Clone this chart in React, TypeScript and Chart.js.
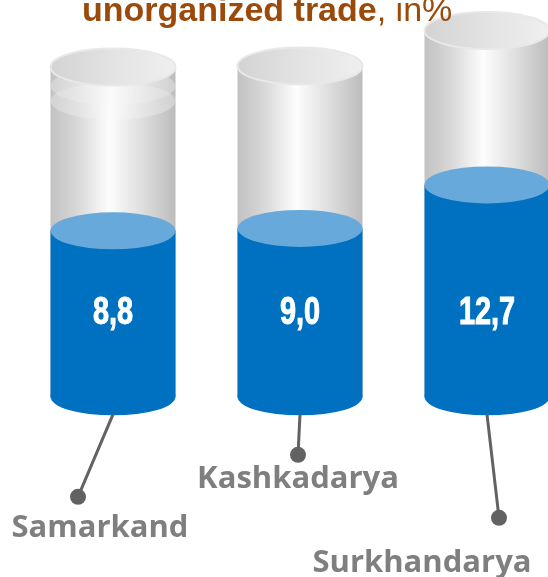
import React, { useEffect, useRef } from "react";
import { Chart, registerables } from "chart.js";

Chart.register(...registerables);

// ---- data ----
const TITLE_BOLD = "unorganized trade";
const TITLE_REST = ", in%";
const REGIONS = ["Samarkand", "Kashkadarya", "Surkhandarya"];
const SHARE = [8.8, 9.0, 12.7];
const VALUE_LABELS = ["8,8", "9,0", "12,7"];
const CAPACITY = [22.7, 22.8, 25.8];
const BASE = -5.3;
const Y_MIN = -20.6;
const Y_MAX = 28.4;

// ---- callout layout (pixel offsets relative to cylinder centre / bottom) ----
const CALLOUTS = [
  { dotDx: -35, dotDy: 100, textX: 100, textY: 537 },
  { dotDx: -2, dotDy: 58, textX: 298, textY: 488 },
  { dotDx: 12, dotDy: 121, textX: 422, textY: 572 },
];
// faint extra glass rings below the top (style only)
const GLASS_RINGS = [[19, 34], [], []];

const RY = 18.5;
const LABEL_RISE = 84;

function ellipse(ctx: CanvasRenderingContext2D, cx: number, cy: number, rx: number, ry: number) {
  ctx.beginPath();
  ctx.ellipse(cx, cy, rx, ry, 0, 0, Math.PI * 2);
  ctx.closePath();
}

const cylinderPlugin = {
  id: "cylinders",
  afterDatasetsDraw(chart: any) {
    const ctx: CanvasRenderingContext2D = chart.ctx;
    const blueMeta = chart.getDatasetMeta(0);
    const grayMeta = chart.getDatasetMeta(1);
    ctx.save();
    for (let i = 0; i < REGIONS.length; i++) {
      const g = grayMeta.data[i];
      const b = blueMeta.data[i];
      const cx = b.x;
      const rx = b.width / 2;
      const base = b.base;
      const blueTop = b.y;
      const grayTop = g.y;
      const left = cx - rx;

      // gray glass body
      const gg = ctx.createLinearGradient(left, 0, left + 2 * rx, 0);
      gg.addColorStop(0, "#c2c2c2");
      gg.addColorStop(0.2, "#d6d6d6");
      gg.addColorStop(0.47, "#fdfdfd");
      gg.addColorStop(0.75, "#dcdcdc");
      gg.addColorStop(1, "#bcbcbc");
      ctx.fillStyle = gg;
      ctx.fillRect(left, grayTop, 2 * rx, base - grayTop);

      // faint rings
      for (const off of GLASS_RINGS[i]) {
        const rg = ctx.createLinearGradient(left, 0, left + 2 * rx, 0);
        rg.addColorStop(0, "rgba(225,225,225,0.55)");
        rg.addColorStop(0.5, "rgba(250,250,250,0.45)");
        rg.addColorStop(1, "rgba(225,225,225,0.55)");
        ellipse(ctx, cx, grayTop + off, rx, RY);
        ctx.fillStyle = rg;
        ctx.fill();
      }

      // gray top ellipse
      const gt = ctx.createLinearGradient(left, 0, left + 2 * rx, 0);
      gt.addColorStop(0, "#d3d3d3");
      gt.addColorStop(0.5, "#e3e3e3");
      gt.addColorStop(1, "#efefef");
      ellipse(ctx, cx, grayTop, rx, RY);
      ctx.fillStyle = gt;
      ctx.fill();
      ctx.lineWidth = 2;
      ctx.strokeStyle = "#e8e8e8";
      ctx.stroke();

      // blue body
      ctx.fillStyle = "#0070c0";
      ellipse(ctx, cx, base, rx, RY);
      ctx.fill();
      ctx.fillRect(left, blueTop, 2 * rx, base - blueTop);
      ellipse(ctx, cx, blueTop, rx, RY);
      ctx.fillStyle = "#66a9da";
      ctx.fill();

      // value label
      ctx.save();
      ctx.translate(cx, base - LABEL_RISE);
      ctx.scale(0.76, 1);
      ctx.fillStyle = "#ffffff";
      ctx.strokeStyle = "#ffffff";
      ctx.lineWidth = 1;
      ctx.font = "bold 38px 'Liberation Sans', Arial, sans-serif";
      ctx.textAlign = "center";
      ctx.textBaseline = "middle";
      ctx.fillText(VALUE_LABELS[i], 0, 1);
      ctx.strokeText(VALUE_LABELS[i], 0, 1);
      ctx.restore();

      // callout
      const c = CALLOUTS[i];
      const sx = cx;
      const sy = base + RY - 1;
      const dx = cx + c.dotDx;
      const dy = base + c.dotDy;
      ctx.beginPath();
      ctx.moveTo(sx, sy);
      ctx.lineTo(dx, dy);
      ctx.lineWidth = 3;
      ctx.strokeStyle = "#626262";
      ctx.stroke();
      ctx.beginPath();
      ctx.arc(dx, dy, 8, 0, Math.PI * 2);
      ctx.fillStyle = "#626262";
      ctx.fill();

      ctx.font = "bold 31px 'Open Sans', 'DejaVu Sans', sans-serif";
      ctx.fillStyle = "#7f7f7f";
      ctx.textAlign = "center";
      ctx.textBaseline = "alphabetic";
      ctx.fillText(REGIONS[i], c.textX, c.textY);
    }

    // title (partly cut at top edge)
    ctx.textBaseline = "alphabetic";
    ctx.textAlign = "left";
    ctx.fillStyle = "#9a4a0b";
    ctx.font = "bold 34px 'Liberation Sans', Arial, sans-serif";
    const x0 = 82;
    ctx.fillText(TITLE_BOLD, x0, 21);
    const w = ctx.measureText(TITLE_BOLD).width;
    ctx.font = "34px 'Liberation Sans', Arial, sans-serif";
    ctx.fillText(TITLE_REST, x0 + w, 21);
    ctx.restore();
  },
};

export default function App() {
  const ref = useRef<HTMLCanvasElement | null>(null);
  useEffect(() => {
    if (!ref.current) return;
    const chart = new Chart(ref.current, {
      type: "bar",
      data: {
        labels: REGIONS,
        datasets: [
          {
            label: "Share",
            data: SHARE,
            base: BASE,
            backgroundColor: "rgba(0,0,0,0)",
            grouped: false,
            barThickness: 125,
          } as any,
          {
            label: "Capacity",
            data: CAPACITY,
            base: BASE,
            backgroundColor: "rgba(0,0,0,0)",
            grouped: false,
            barThickness: 125,
          } as any,
        ],
      },
      options: {
        responsive: false,
        devicePixelRatio: 1,
        animation: false,
        layout: { padding: { left: 113, right: 61, top: 0, bottom: 0 } },
        plugins: { legend: { display: false }, tooltip: { enabled: false }, title: { display: false } },
        scales: {
          x: { type: "category", display: false, offset: false },
          y: { type: "linear", display: false, min: Y_MIN, max: Y_MAX },
        },
      },
      plugins: [cylinderPlugin],
    });
    return () => chart.destroy();
  }, []);
  return (
    <div style={{ position: "fixed", left: 0, top: 0, width: 548, height: 577, background: "#fff" }}>
      <canvas ref={ref} width={548} height={577} style={{ display: "block", width: 548, height: 577 }} />
    </div>
  );
}
